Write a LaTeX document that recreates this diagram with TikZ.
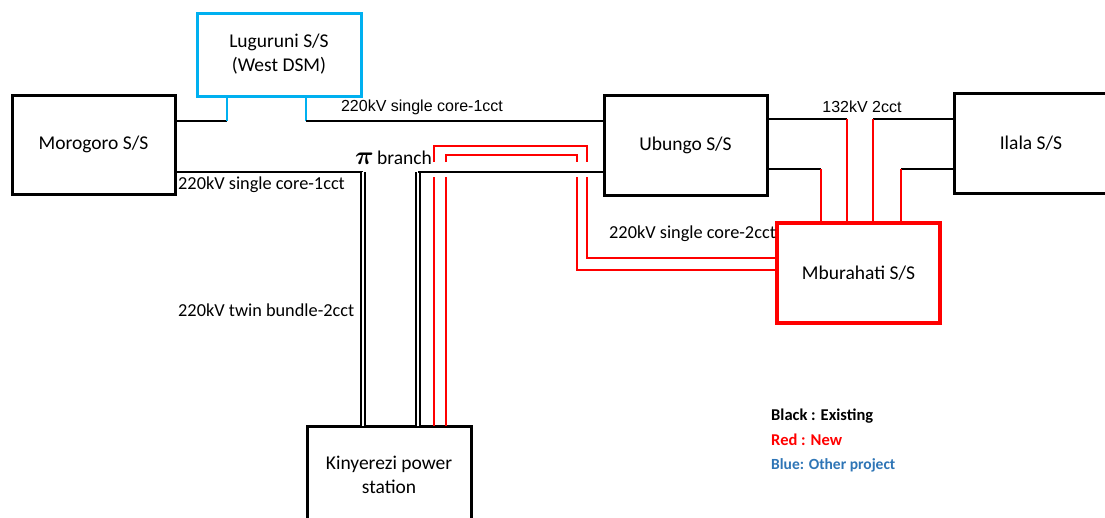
\documentclass[tikz,border=0pt]{standalone}
\usepackage{fontspec}
\setmainfont{Carlito}
\newfontfamily\arialf{Liberation Sans}
\definecolor{lblue}{HTML}{00B0F0}
\definecolor{legblue}{HTML}{2E75B6}
\begin{document}
\begin{tikzpicture}[x=1pt,y=-1pt,
  box/.style={draw, line width=3pt, outer sep=0pt, minimum width=163pt, minimum height=99pt, inner sep=0pt, align=center, font=\fontsize{19.5}{24}\selectfont},
  wire/.style={line width=1.3pt},
  rwire/.style={line width=1.3pt, red},
  bwire/.style={line width=1.4pt, lblue},
  twin/.style={line width=1.8pt, double distance=1.6pt, double=white},
  lbl/.style={font=\fontsize{18.3}{22}\selectfont, inner sep=0pt},
  albl/.style={font=\arialf\fontsize{16}{18}\selectfont, inner sep=0pt},
  leg/.style={font=\bfseries\fontsize{16.5}{20}\selectfont, inner sep=0pt, anchor=west}]
\clip (0,0) rectangle (1105,517);
\fill[white] (0,0) rectangle (1105,517);

% boxes
\node[box] (mor) at (93.5,144.5) {Morogoro S/S};
\node[box, draw=lblue, minimum width=164pt, minimum height=83pt] (lug) at (279,54.5) {Luguruni S/S\\(West DSM)};
\node[box, minimum height=100pt] (ubu) at (685.5,145) {Ubungo S/S};
\node[box, minimum width=154pt, minimum height=100pt] (ila) at (1031,143) {Ilala S/S};
\node[box, draw=red, line width=3.2pt, minimum height=100pt] (mbu) at (858.5,273) {Mburahati S/S};
\node[box, minimum width=164pt, minimum height=98pt] (kin) at (389,475) {Kinyerezi power\\station};

% helper coordinates
\coordinate (a1) at (227,121);
\coordinate (a2) at (306,121);
\coordinate (b1) at (363,172);
\coordinate (b2) at (418,172);
\coordinate (r1) at (434,146);
\coordinate (r2) at (587,146);
\coordinate (r3) at (446,155);
\coordinate (r4) at (577,155);
\coordinate (g1) at (0,162);
\coordinate (g2) at (0,177);
\coordinate (h1) at (0,258);
\coordinate (h2) at (0,270);
\coordinate (c1) at (847,119);
\coordinate (c2) at (873,119);
\coordinate (c3) at (821,169);
\coordinate (c4) at (901,169);

% Morogoro - Luguruni - Ubungo
\draw[wire] (mor.east |- a1) -- (a1);
\draw[bwire] (a1) -- (a1 |- lug.south);
\draw[bwire] (a2 |- lug.south) -- (a2);
\draw[wire] (a2) -- (a2 -| ubu.west);

% Morogoro - Kinyerezi - Ubungo
\draw[wire] (mor.east |- b1) -- (b1);
\draw[twin] (b1) -- (b1 |- kin.north);
\draw[twin] (b2 |- kin.north) -- (b2);
\draw[wire] (b2) -- (b2 -| ubu.west);

% red new lines Kinyerezi - Mburahati
\draw[rwire] (r1 |- kin.north) -- (r1 |- g2);
\draw[rwire] (r1 |- g1) -- (r1) -- (r2) -- (r2 |- g1);
\draw[rwire] (r2 |- g2) |- (mbu.west |- h1);
\draw[rwire] (r3 |- kin.north) -- (r3 |- g2);
\draw[rwire] (r3 |- g1) -- (r3) -- (r4) -- (r4 |- g1);
\draw[rwire] (r4 |- g2) |- (mbu.west |- h2);

% Ubungo - Ilala with Mburahati
\draw[wire] (ubu.east |- c1) -- (c1);
\draw[rwire] (c1) -- (c1 |- mbu.north);
\draw[wire] (ila.west |- c2) -- (c2);
\draw[rwire] (c2) -- (c2 |- mbu.north);
\draw[wire] (ubu.east |- c3) -- (c3);
\draw[rwire] (c3) -- (c3 |- mbu.north);
\draw[wire] (ila.west |- c4) -- (c4);
\draw[rwire] (c4) -- (c4 |- mbu.north);

% labels
\node[albl] (t1) at (422,107) {220kV single core-1cct};
\node[albl] (t2) at (862,107) {132kV 2cct};
\node[lbl, anchor=west] (t3) at (178,185) {220kV single core-1cct};
\node[lbl, anchor=west] (t4) at (178,310) {220kV twin bundle-2cct};
\node[lbl, anchor=west] (t5) at (609,234) {220kV single core-2cct};
\node[font=\fontsize{19.5}{23}\selectfont, inner sep=0pt, anchor=west] (pib) at (355,158) {\scalebox{1.25}{\boldmath$\pi$}\,branch};

% legend
\node[leg] (lg1) at (771,416) {Black : Existing};
\node[leg, text=red] (lg2) at (771,440) {Red : New};
\node[leg, text=legblue, font=\bfseries\fontsize{15.5}{19}\selectfont] (lg3) at (771,465) {Blue: Other project};
\end{tikzpicture}
\end{document}
